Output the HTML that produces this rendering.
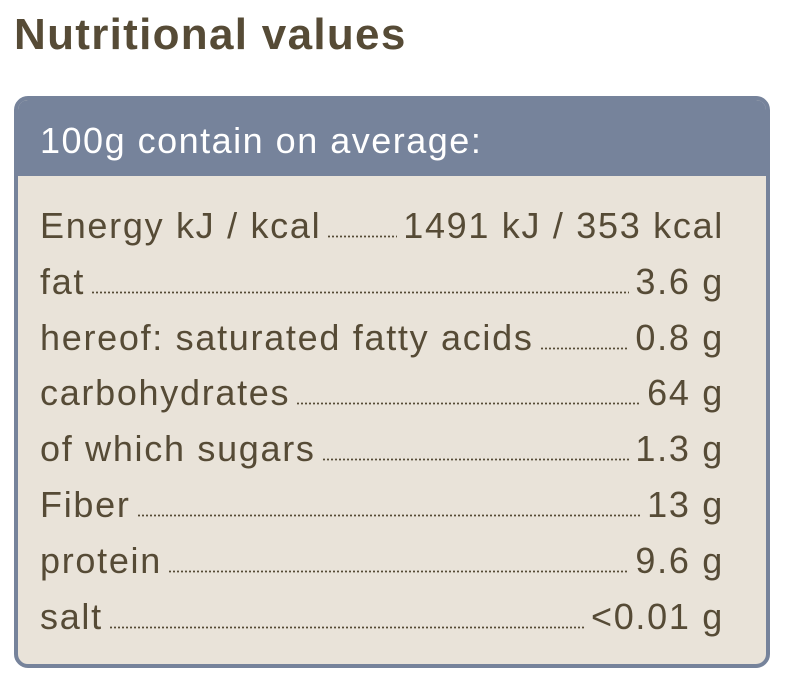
<!DOCTYPE html>
<html><head><meta charset="utf-8"><style>
html,body{margin:0;padding:0;background:#fff;width:786px;height:675px;overflow:hidden;font-family:"Liberation Sans",sans-serif;}
h1{position:absolute;left:14px;top:10px;margin:0;font-size:44px;font-weight:bold;color:#564b36;letter-spacing:1.3px;}
.box{position:absolute;left:14px;top:96px;width:748px;height:564px;border:4px solid #76839b;border-radius:14px;background:#e9e3d9;overflow:hidden;}
.hd{height:76px;background:#76839b;color:#fff;font-size:36px;letter-spacing:1.5px;line-height:82px;padding-left:22px;}
.rows{padding:22px 42px 0 22px;}
.r{display:flex;align-items:baseline;height:55.8px;line-height:56px;font-size:36px;letter-spacing:1.7px;color:#564b36;}
.f{flex:1;margin:0 6px;height:3px;background-image:radial-gradient(circle,#564b36 0.9px,transparent 1.2px);background-size:4px 3px;background-repeat:repeat-x;}
</style></head><body>
<h1>Nutritional values</h1>
<div class="box"><div class="hd">100g contain on average:</div>
<div class="rows">
<div class="r"><span>Energy kJ / kcal</span><span class="f"></span><span>1491 kJ / 353 kcal</span></div>
<div class="r"><span>fat</span><span class="f"></span><span>3.6 g</span></div>
<div class="r"><span>hereof: saturated fatty acids</span><span class="f"></span><span>0.8 g</span></div>
<div class="r"><span>carbohydrates</span><span class="f"></span><span>64 g</span></div>
<div class="r"><span>of which sugars</span><span class="f"></span><span>1.3 g</span></div>
<div class="r"><span>Fiber</span><span class="f"></span><span>13 g</span></div>
<div class="r"><span>protein</span><span class="f"></span><span>9.6 g</span></div>
<div class="r"><span>salt</span><span class="f"></span><span>&lt;0.01 g</span></div>
</div></div>
</body></html>
